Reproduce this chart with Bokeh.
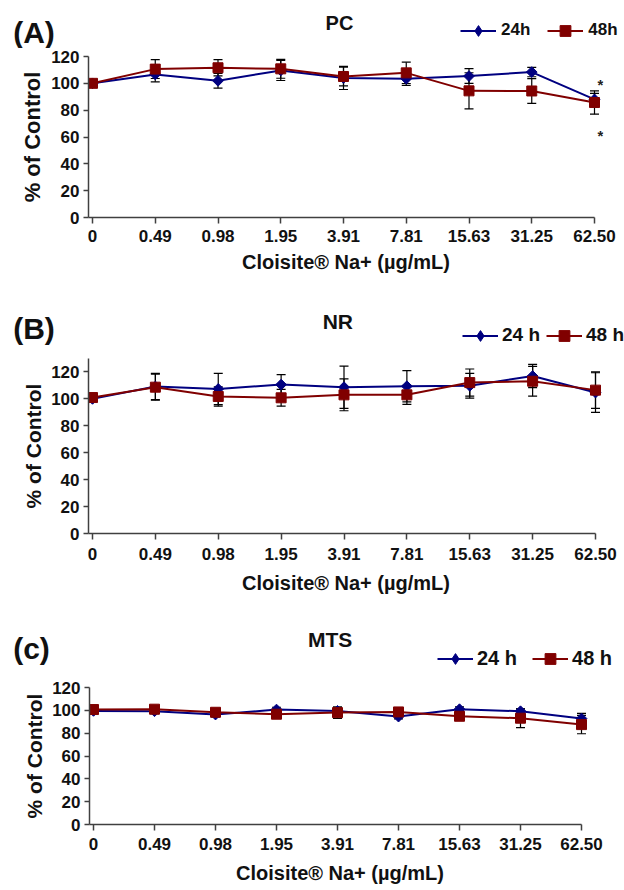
import math
from bokeh.plotting import figure
from bokeh.models import (Range1d, FixedTicker, Whisker, TeeHead, ColumnDataSource,
                          Legend, LegendItem, Label)
from bokeh.embed import file_html
from bokeh.resources import INLINE

# ---------------- data ----------------
doses = ["0", "0.49", "0.98", "1.95", "3.91", "7.81", "15.63", "31.25", "62.50"]

pc_24h = [100, 106.6, 101.9, 109.6, 104.0, 103.4, 105.4, 108.4, 88.0]
pc_24h_err = [0, 5.5, 5.5, 7.5, 8.6, 5.0, 5.5, 3.5, 4.5]
pc_48h = [100, 110.6, 111.6, 110.8, 105.1, 107.8, 94.4, 94.3, 85.7]
pc_48h_err = [0, 7.0, 6.0, 7.0, 7.0, 8.0, 13.5, 9.2, 8.7]
pc_stars = [100, 62]

nr_24h = [100, 109.2, 107.4, 110.6, 108.7, 109.4, 109.7, 117.0, 104.7]
nr_24h_err = [0, 9.8, 11.6, 7.4, 15.7, 11.6, 9.2, 8.7, 14.7]
nr_48h = [101, 108.7, 101.8, 100.8, 103.0, 103.0, 112.1, 113.1, 106.5]
nr_48h_err = [0, 9.7, 7.2, 6.2, 11.8, 7.1, 10.1, 11.1, 13.5]

mts_24h = [99.5, 99.2, 96.3, 100.7, 99.5, 94.5, 101.0, 99.2, 92.8]
mts_24h_err = [2, 2, 2, 2, 3, 2, 2, 2, 4.5]
mts_48h = [100.7, 101.0, 98.3, 96.6, 98.0, 98.6, 94.8, 93.1, 87.5]
mts_48h_err = [0, 2, 2, 3, 5, 2, 2.5, 8.2, 8.0]

y_ticks = [0, 20, 40, 60, 80, 100, 120]
x_title = "Cloisite® Na+ (µg/mL)"
y_title = "% of Control"

FONT = "Liberation Sans"
BLUE = "#000080"
RED = "#800000"
AXIS = "#404040"
TXT = "#111111"
W = 624
NAN = float("nan")

# data markers (24 h = diamond drawn as a rotated square, 48 h = square)
STYLE = [dict(color=BLUE, marker="square", size=7.6, angle=math.pi / 4, leg_marker="diamond"),
         dict(color=RED, marker="square", size=10, angle=0, leg_marker="square")]


def header(g, tag, title, leg_labels):
    Hh = g["Hh"]
    h = figure(width=W, height=Hh, output_backend="svg", toolbar_location=None,
               x_range=Range1d(0, W), y_range=Range1d(Hh, 0),
               x_axis_location=None, y_axis_location=None, min_border=0)
    h.outline_line_color = None
    h.xgrid.visible = False
    h.ygrid.visible = False
    items = []
    for st, lab in zip(STYLE, leg_labels):
        # legend-only renderers (no visible data)
        lr = h.line(x=[NAN], y=[NAN], line_color=st["color"], line_width=2)
        sr = h.scatter(x=[NAN], y=[NAN], marker=st["leg_marker"], size=st["size"],
                       fill_color=st["color"], line_color=st["color"])
        items.append(LegendItem(label=lab, renderers=[lr, sr]))
    gh = 27
    leg = Legend(items=items, orientation="horizontal",
                 location=(g["lx"], Hh - (g["ly"] + gh / 2)),
                 background_fill_alpha=0, border_line_color=None,
                 padding=0, margin=0, spacing=g["lsp"], label_standoff=g["lso"],
                 glyph_width=36, glyph_height=gh, label_height=gh,
                 label_text_font=FONT, label_text_font_style="bold",
                 label_text_font_size=g["lfs"], label_text_color=TXT)
    h.add_layout(leg, "center")
    h.add_layout(Label(x=g["tag"][0], y=g["tag"][1], text=tag,
                       text_font=FONT, text_font_style="bold", text_font_size="30px",
                       text_align="left", text_baseline="middle", text_color=TXT))
    h.add_layout(Label(x=g["ttl"][0], y=g["ttl"][1], text=title,
                       text_font=FONT, text_font_style="bold", text_font_size=g["tfs"],
                       text_align="center", text_baseline="middle", text_color=TXT))
    return h


def panel(g, s24, e24, s48, e48, stars=None):
    H, L, R, T, B, ymax = g["H"], g["L"], g["R"], g["T"], g["B"], g["ymax"]
    n = len(doses) - 1
    fl, fr = L, W - R
    px0, px8 = g["px0"], g["px8"]
    k = (px8 - px0) / n
    x_start = (fl - px0) / k
    xr = Range1d(x_start, n + (fr - px8) / k)

    p = figure(width=W, height=H, output_backend="svg", toolbar_location=None,
               x_range=xr, y_range=Range1d(0, ymax),
               min_border_left=L, min_border_right=R, min_border_top=T, min_border_bottom=B)
    p.outline_line_color = None
    p.xgrid.visible = False
    p.ygrid.visible = False

    xs = list(range(len(doses)))
    for ax in (p.xaxis[0], p.yaxis[0]):
        ax.axis_line_color = AXIS
        ax.axis_line_width = 1.5
        ax.major_tick_line_color = AXIS
        ax.major_tick_line_width = 1.5
        ax.minor_tick_line_color = None
        ax.major_tick_in = 0
        ax.major_label_text_font = FONT
        ax.major_label_text_font_style = "bold"
        ax.major_label_text_font_size = "17px"
        ax.major_label_text_color = TXT
        ax.axis_label_text_font = FONT
        ax.axis_label_text_font_style = "bold"
        ax.axis_label_text_color = TXT

    xa = p.xaxis[0]
    xa.ticker = FixedTicker(ticks=xs)
    xa.bounds = (x_start, n)
    xa.major_label_overrides = {i: d for i, d in enumerate(doses)}
    xa.major_tick_out = 6
    xa.major_label_standoff = g["xls"]
    xa.axis_label = x_title
    xa.axis_label_text_font_size = "20px"
    xa.axis_label_standoff = g["xas"]

    ya = p.yaxis[0]
    ya.ticker = FixedTicker(ticks=y_ticks)
    ya.major_tick_out = 5
    ya.major_label_standoff = 4
    ya.axis_label = y_title
    ya.axis_label_text_font_size = g["ylfs"]
    ya.axis_label_standoff = 3

    for vals, errs, st in ((s24, e24, STYLE[0]), (s48, e48, STYLE[1])):
        src = ColumnDataSource(dict(
            x=xs, y=vals,
            upper=[v + e for v, e in zip(vals, errs)],
            lower=[v - e for v, e in zip(vals, errs)]))
        wk = Whisker(source=src, base="x", upper="upper", lower="lower",
                     line_color="black", line_width=1.2, level="underlay",
                     upper_head=TeeHead(size=9, line_color="black", line_width=1.2),
                     lower_head=TeeHead(size=9, line_color="black", line_width=1.2))
        p.add_layout(wk)
        p.line("x", "y", source=src, line_color=st["color"], line_width=2)
        p.scatter("x", "y", source=src, marker=st["marker"], size=st["size"], angle=st["angle"],
                  fill_color=st["color"], line_color=st["color"])

    if stars:
        for sy in stars:
            p.add_layout(Label(x=n, y=sy, x_offset=6, y_offset=-1, text="*",
                               text_font=FONT, text_font_style="bold", text_font_size="15px",
                               text_align="center", text_baseline="middle",
                               text_color="#222222"))
    return p


# header geometry (pixels inside each header strip) and panel geometry
hA = dict(Hh=48, lx=460, ly=30, lsp=17, lso=5, lfs="17px", tag=(12.7, 31.7), ttl=(339, 22.7), tfs="20px")
gA = dict(H=247, L=88, R=21, T=8, B=78, ymax=120, px0=92, px8=594, xls=6, xas=6, ylfs="22px")
hB = dict(Hh=55, lx=462, ly=40, lsp=6, lso=4, lfs="19px", tag=(12.7, 33.3), ttl=(337.3, 25.7), tfs="21px")
gB = dict(H=250, L=88, R=21, T=8, B=67, ymax=130, px0=92, px8=595, xls=8, xas=9, ylfs="21px")
hC = dict(Hh=72, lx=437, ly=58.3, lsp=15, lso=4, lfs="20px", tag=(12.7, 47.5), ttl=(329.7, 39), tfs="21px")
gC = dict(H=218, L=89, R=34, T=15, B=66, ymax=120, px0=93, px8=581, xls=7, xas=9, ylfs="21px")

parts = [
    header(hA, "(A)", "PC", ["24h", "48h"]),
    panel(gA, pc_24h, pc_24h_err, pc_48h, pc_48h_err, stars=pc_stars),
    header(hB, "(B)", "NR", ["24 h", "48 h"]),
    panel(gB, nr_24h, nr_24h_err, nr_48h, nr_48h_err),
    header(hC, "(c)", "MTS", ["24 h", "48 h"]),
    panel(gC, mts_24h, mts_24h_err, mts_48h, mts_48h_err),
]

open("out.html", "w").write(file_html(parts, INLINE))
